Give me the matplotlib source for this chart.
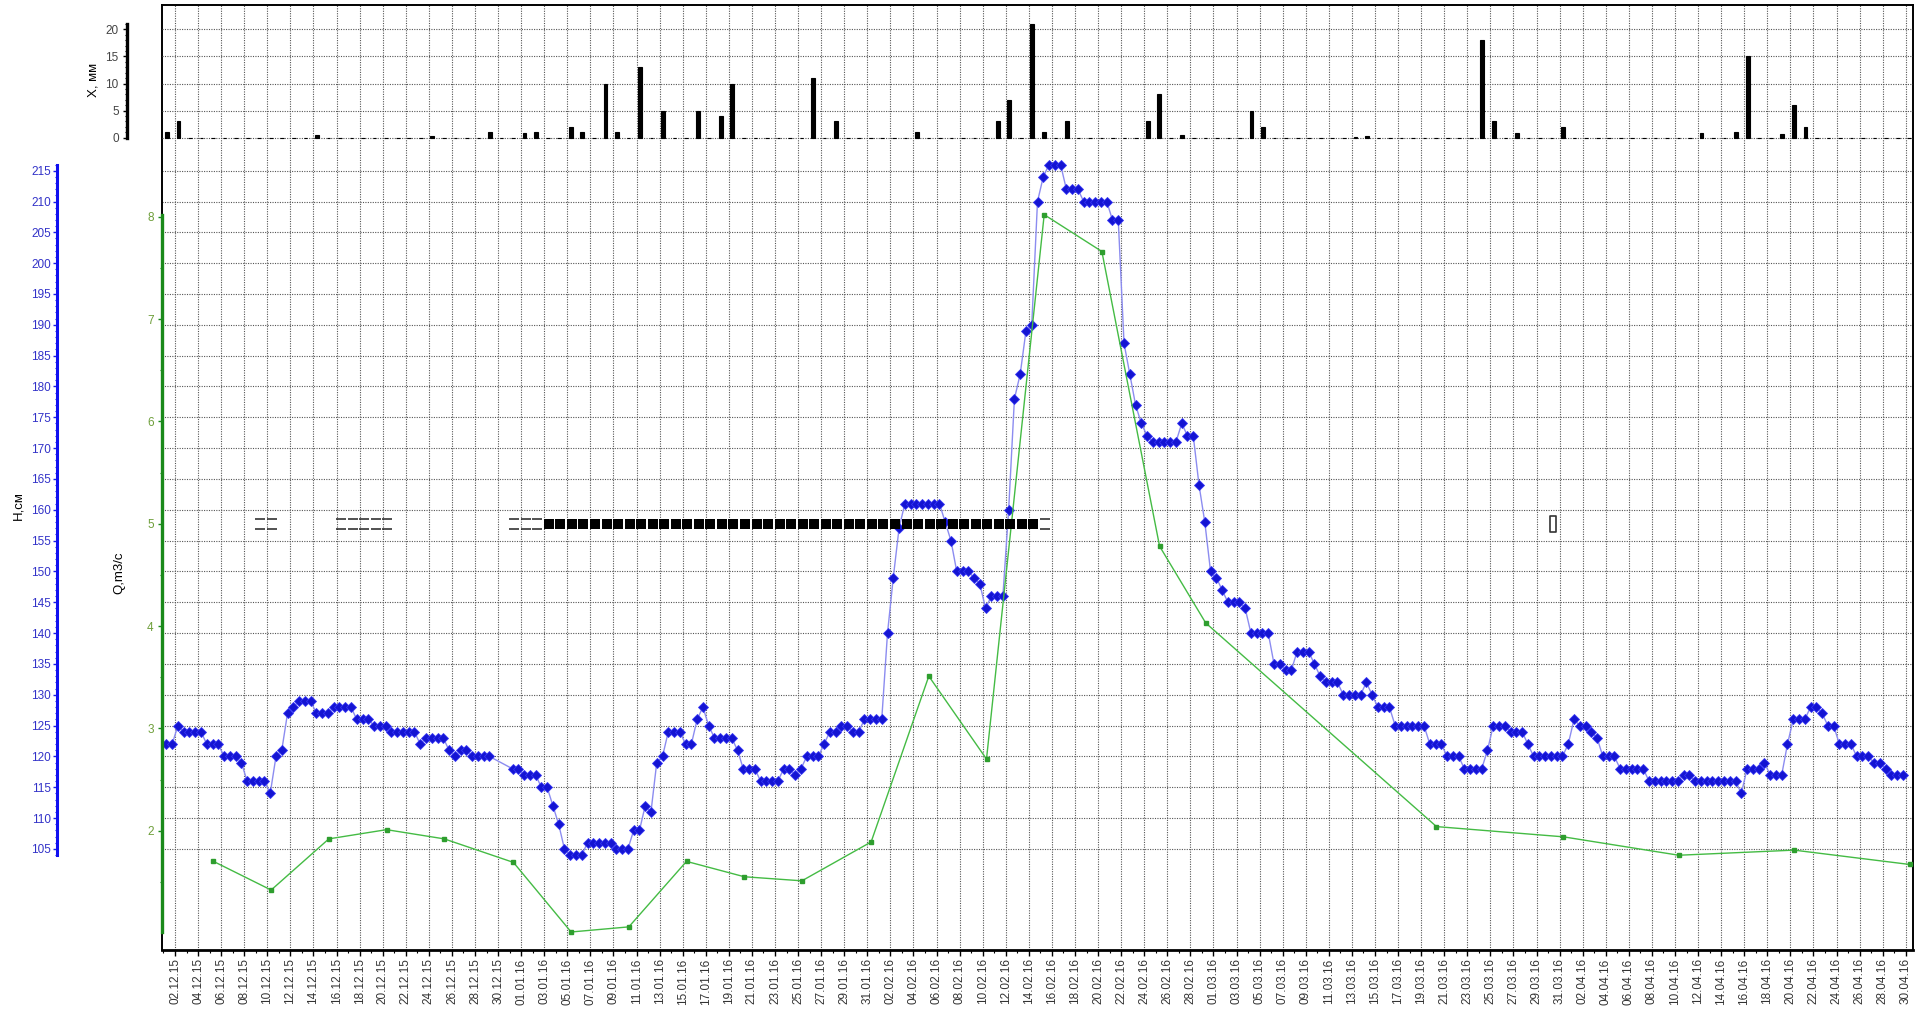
import numpy as np
import matplotlib
matplotlib.use("Agg")
import matplotlib.pyplot as plt
from matplotlib.path import Path
from matplotlib.ticker import FixedLocator, MultipleLocator
from datetime import datetime, timedelta

plt.rcParams["font.family"] = ["Liberation Sans", "DejaVu Sans"]

START = datetime(2015, 12, 1)
N_DAYS = 152          # 01.12.15 .. 30.04.16


def day(s):
    return (datetime.strptime(s, "%d.%m.%y") - START).days


# water stage H, cm, two readings a day from 01.12.15 (None = no reading)
stage_cm = [
    122, 122, 125, 124, 124, 124, 124, 122, 122, 122,
    120, 120, 120, 119, 116, 116, 116, 116, 114, 120,
    121, 127, 128, 129, 129, 129, 127, 127, 127, 128,
    128, 128, 128, 126, 126, 126, 125, 125, 125, 124,
    124, 124, 124, 124, 122, 123, 123, 123, 123, 121,
    120, 121, 121, 120, 120, 120, 120, None, None, None,
    118, 118, 117, 117, 117, 115, 115, 112, 109, 105,
    104, 104, 104, 106, 106, 106, 106, 106, 105, 105,
    105, 108, 108, 112, 111, 119, 120, 124, 124, 124,
    122, 122, 126, 128, 125, 123, 123, 123, 123, 121,
    118, 118, 118, 116, 116, 116, 116, 118, 118, 117,
    118, 120, 120, 120, 122, 124, 124, 125, 125, 124,
    124, 126, 126, 126, 126, 140, 149, 157, 161, 161,
    161, 161, 161, 161, 161, 158, 155, 150, 150, 150,
    149, 148, 144, 146, 146, 146, 160, 178, 182, 189,
    190, 210, 214, 216, 216, 216, 212, 212, 212, 210,
    210, 210, 210, 210, 207, 207, 187, 182, 177, 174,
    172, 171, 171, 171, 171, 171, 174, 172, 172, 164,
    158, 150, 149, 147, 145, 145, 145, 144, 140, 140,
    140, 140, 135, 135, 134, 134, 137, 137, 137, 135,
    133, 132, 132, 132, 130, 130, 130, 130, 132, 130,
    128, 128, 128, 125, 125, 125, 125, 125, 125, 122,
    122, 122, 120, 120, 120, 118, 118, 118, 118, 121,
    125, 125, 125, 124, 124, 124, 122, 120, 120, 120,
    120, 120, 120, 122, 126, 125, 125, 124, 123, 120,
    120, 120, 118, 118, 118, 118, 118, 116, 116, 116,
    116, 116, 116, 117, 117, 116, 116, 116, 116, 116,
    116, 116, 116, 114, 118, 118, 118, 119, 117, 117,
    117, 122, 126, 126, 126, 128, 128, 127, 125, 125,
    122, 122, 122, 120, 120, 120, 119, 119, 118, 117,
    117, 117,
]

# measured discharge Q, m3/s
q_dates = ["05.12.15", "10.12.15", "15.12.15", "20.12.15", "25.12.15", "31.12.15",
           "05.01.16", "10.01.16", "15.01.16", "20.01.16", "25.01.16", "31.01.16",
           "05.02.16", "10.02.16", "15.02.16", "20.02.16", "25.02.16", "29.02.16",
           "20.03.16", "31.03.16", "10.04.16", "20.04.16", "30.04.16"]
q_m3s = [1.70, 1.42, 1.92, 2.01, 1.92, 1.69,
         1.01, 1.06, 1.70, 1.55, 1.51, 1.89,
         3.51, 2.70, 8.02, 7.66, 4.78, 4.03,
         2.04, 1.94, 1.76, 1.81, 1.67]

# daily precipitation X, mm (days not listed had none)
rain_dates = ["01.12.15", "02.12.15", "14.12.15", "24.12.15", "29.12.15", "01.01.16",
              "02.01.16", "05.01.16", "06.01.16", "08.01.16", "09.01.16", "11.01.16",
              "13.01.16", "16.01.16", "18.01.16", "19.01.16", "26.01.16", "28.01.16",
              "04.02.16", "11.02.16", "12.02.16", "14.02.16", "15.02.16", "17.02.16",
              "24.02.16", "25.02.16", "27.02.16", "04.03.16", "05.03.16", "13.03.16",
              "14.03.16", "24.03.16", "25.03.16", "27.03.16", "31.03.16", "12.04.16",
              "15.04.16", "16.04.16", "19.04.16", "20.04.16", "21.04.16"]
rain_mm = [1, 3, 0.5, 0.3, 1, 0.8,
           1, 2, 1, 10, 1, 13,
           5, 5, 4, 10, 11, 3,
           1, 3, 7, 21, 1, 3,
           3, 8, 0.5, 5, 2, 0.2,
           0.4, 18, 3, 0.8, 2, 0.8,
           1, 15, 0.6, 6, 2]

# ice phenomena
ice_slush_dates = ["09.12.15", "10.12.15", "16.12.15", "17.12.15", "18.12.15",
                   "19.12.15", "20.12.15", "31.12.15", "01.01.16", "02.01.16",
                   "15.02.16"]
ice_cover_span = ("03.01.16", "14.02.16")
ice_other_dates = ["30.03.16"]
ICE_LEVEL = 5.0

BLUE = "#1414d2"
GREEN = "#2e9e2e"
GRID = dict(color="#555555", lw=0.8, ls=(0, (1, 1.2)))

W, H = 1928, 1011
fig = plt.figure(figsize=(W / 100, H / 100), dpi=100, facecolor="white")
ax = fig.add_axes([162 / W, 1 - 950 / H, (1913 - 162) / W, (950 - 5.3) / H])

# --- stage ---
h = np.array([np.nan if v is None else v for v in stage_cm], float)
t_h = 0.25 + 0.5 * np.arange(len(h))
ok = ~np.isnan(h)
ax.plot(t_h[ok], h[ok], color="#8c8cf0", lw=1.0, marker="D", ms=5.0,
        mfc=BLUE, mec="#3434f4", mew=0.6, zorder=3)

ax.set_xlim(-0.13, N_DAYS - 0.37)
ax.set_ylim(88.61, 241.82)

ticks = np.arange(1, N_DAYS, 2)
ax.xaxis.set_major_locator(FixedLocator(ticks))
ax.set_xticklabels([(START + timedelta(days=int(k))).strftime("%d.%m.%y") for k in ticks],
                   rotation=90, fontsize=8.5, color="#333333")
ax.xaxis.set_minor_locator(MultipleLocator(1))
ax.tick_params(axis="x", which="major", length=4, width=1, pad=2)
ax.tick_params(axis="x", which="minor", length=2, width=0.8)

ax.yaxis.set_major_locator(FixedLocator(np.arange(105, 216, 5)))
ax.yaxis.set_minor_locator(FixedLocator(np.arange(np.nanmin(h), np.nanmax(h) + 1, 1)))
ax.tick_params(axis="y", which="major", length=3, width=1, pad=1.5,
               colors="#1e1ee6", labelcolor="#3232c8", labelsize=8.5)
ax.tick_params(axis="y", which="minor", length=1.5, width=0.8, colors="#1e1ee6")
ax.grid(True, which="major", **GRID)
ax.set_axisbelow(True)

for side in ("top", "right", "bottom"):
    ax.spines[side].set_linewidth(1.4)
ax.spines["bottom"].set_linewidth(2)
ax.spines["left"].set_position(("outward", 75.6))
ax.spines["left"].set_bounds(np.nanmin(h), np.nanmax(h))
ax.spines["left"].set_color("#1010f0")
ax.spines["left"].set_linewidth(2.2)
# left edge of the frame
ax.plot([0, 0], [0, 1], transform=ax.transAxes, color="black", lw=1.4,
        clip_on=False, zorder=1)

# --- discharge ---
aq = ax.twinx()
aq.set_ylim(0.834, 10.066)
t_q = np.array([day(s) for s in q_dates]) + 0.33
aq.plot(t_q, q_m3s, color="#44bb44", lw=1.0, marker="s", ms=2.6,
        mfc=GREEN, mec=GREEN, zorder=3)
for side in ("top", "right", "bottom"):
    aq.spines[side].set_visible(False)
aq.spines["left"].set_visible(True)
aq.spines["left"].set_bounds(min(q_m3s), max(q_m3s))
aq.spines["left"].set_color("#1a8a1a")
aq.spines["left"].set_linewidth(2.4)
aq.yaxis.tick_left()
aq.yaxis.set_major_locator(FixedLocator(np.arange(2, 9, 1)))
aq.yaxis.set_minor_locator(FixedLocator(np.arange(1.5, 8.01, 0.5)))
aq.tick_params(axis="y", which="major", length=3, width=1, pad=3,
               colors="#1a8a1a", labelcolor="#6e9e3a", labelsize=8.5)
aq.tick_params(axis="y", which="minor", length=1.5, width=0.8, colors="#1a8a1a")

# ice symbols drawn on the discharge scale
eq = Path([(-1, 1), (1, 1), (-1, -1), (1, -1)],
          [Path.MOVETO, Path.LINETO, Path.MOVETO, Path.LINETO])
box = Path([(-0.42, -1), (0.42, -1), (0.42, 1), (-0.42, 1), (-0.42, -1)],
           [Path.MOVETO, Path.LINETO, Path.LINETO, Path.LINETO, Path.CLOSEPOLY])
t_slush = np.array([day(s) for s in ice_slush_dates]) + 0.4
aq.plot(t_slush, np.full(len(t_slush), ICE_LEVEL), ls="none", marker=eq, ms=7.4,
        mfc="none", mec="#222222", mew=1.1, zorder=5)
t_cover = np.arange(day(ice_cover_span[0]), day(ice_cover_span[1]) + 1) + 0.4
aq.plot(t_cover, np.full(len(t_cover), ICE_LEVEL), ls="none", marker="s", ms=6.8,
        mfc="black", mec="black", mew=0, zorder=5)
t_other = np.array([day(s) for s in ice_other_dates]) + 0.4
aq.plot(t_other, np.full(len(t_other), ICE_LEVEL), ls="none", marker=box, ms=11.5,
        mfc="none", mec="#333333", mew=1.2, zorder=5)

# --- precipitation ---
ap = ax.twinx()
ap.set_ylim(-149.87, 24.43)
rain = np.zeros(N_DAYS)
for s, v in zip(rain_dates, rain_mm):
    rain[day(s)] = v
ap.bar(np.arange(N_DAYS) + 0.3, rain, width=0.32, color="black",
       edgecolor="black", linewidth=0.8, zorder=3)
for side in ("top", "right", "bottom"):
    ap.spines[side].set_visible(False)
ap.spines["left"].set_visible(True)
ap.spines["left"].set_position(("outward", 25.2))
ap.spines["left"].set_bounds(0, rain.max())
ap.spines["left"].set_linewidth(2.4)
ap.yaxis.tick_left()
ap.yaxis.set_major_locator(FixedLocator(np.arange(0, 21, 5)))
ap.yaxis.set_minor_locator(FixedLocator(np.arange(0, rain.max() + 0.1, 1)))
ap.tick_params(axis="y", which="major", length=3, width=1, pad=3,
               labelcolor="#444444", labelsize=8.5)
ap.tick_params(axis="y", which="minor", length=1.5, width=0.8)
ap.grid(True, axis="y", which="major", **GRID)

fig.text(94 / W, 1 - 80 / H, "X, мм", rotation=90, ha="center", va="center", fontsize=9.5)
fig.text(18 / W, 1 - 506 / H, "H,см", rotation=90, ha="center", va="center", fontsize=9.5)
fig.text(119 / W, 1 - 573 / H, "Q,m3/c", rotation=90, ha="center", va="center", fontsize=9.5)

fig.savefig("out.png", dpi=100, facecolor="white")
